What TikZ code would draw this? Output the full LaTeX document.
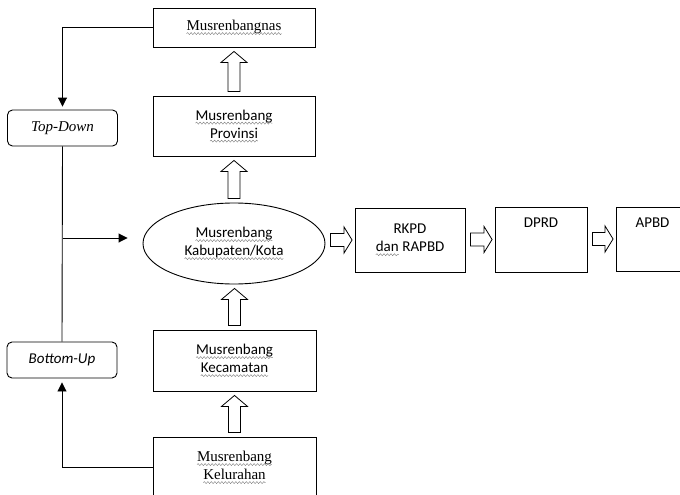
\documentclass[tikz,border=0pt]{standalone}
\usepackage{fontspec}
\setmainfont{Liberation Serif}
\setsansfont{Carlito}
\usetikzlibrary{shapes.geometric,calc,arrows.meta,decorations.pathmorphing}

% gekrinkelte Unterstreichung
\newcommand{\sq}[1]{\tikz[baseline=(w.base),x=1pt,y=1pt]{%
	\node[rectangle, inner sep=0pt, outer sep=0pt, minimum size=0pt, text depth=, text height=] (w) {#1};
	\draw[gray, line width=0.45pt, decorate, decoration={snake, amplitude=1pt, segment length=3.5pt}]
		([yshift=-3pt]w.base west) -- ([yshift=-3pt]w.base east);}}

% Blockpfeil nach oben (#1 unten, #2 oben)
\newcommand{\uparr}[2]{%
	\coordinate (L) at ($(#1.north)+(0,-4)$);
	\coordinate (U) at ($(#1.north |- #2.south)+(0,4)$);
	\draw[blk] ($(L)+(-6,0)$) -- ($(U)+(-6,11)$) -- ($(U)+(-13,11)$) -- (U)
		-- ($(U)+(13,11)$) -- ($(U)+(6,11)$) -- ($(L)+(6,0)$) -- cycle;}

% Blockpfeil nach rechts (#1 links, #2 rechts)
\newcommand{\rarr}[2]{%
	\coordinate (A) at ($(#2.west -| #1.east)+(5,0)$);
	\coordinate (B) at ($(#2.west)+(-2.5,0)$);
	\draw[blk] ($(A)+(0,-6.5)$) -- ($(B)+(-8,-6.5)$) -- ($(B)+(-8,-13)$) -- (B)
		-- ($(B)+(-8,13)$) -- ($(B)+(-8,6.5)$) -- ($(A)+(0,6.5)$) -- cycle;}

\begin{document}
\begin{tikzpicture}[x=1pt,y=-1pt,
	sans/.style={font=\sffamily\fontsize{15}{18}\selectfont},
	serif/.style={font=\rmfamily\fontsize{15}{18}\selectfont},
	box/.style={draw, line width=0.9pt, align=center, inner sep=2pt, sans},
	updown/.style={draw, rounded corners=5pt, line width=0.9pt, minimum width=110, minimum height=36},
	toptext/.style={text depth=33pt},
	tip/.style={-{Triangle[length=9pt,width=9pt]}, line width=0.9pt},
	blk/.style={draw, line width=0.8pt, fill=white}]

	% Rahmen
	\clip (0,0) rectangle (680,495);

	% Musrenbang-Stufen
	\node[box, serif, minimum width=162, minimum height=39] (nas) at (234,27.5) {\sq{Musrenbangnas}};
	\node[box, minimum width=162, minimum height=60] (prov) at (234,126) {\sq{Musrenbang}\\\sq{Provinsi}};
	\node[box, ellipse, inner sep=0pt, minimum width=182, minimum height=81] (kab) at (234,243.5) {\sq{Musrenbang}\\\sq{Kabupaten/Kota}};
	\node[box, minimum width=163, minimum height=61] (kec) at (234.5,360.5) {\sq{Musrenbang}\\\sq{Kecamatan}};
	\node[box, serif, minimum width=163, minimum height=61] (kel) at (234.5,467.5) {\sq{Musrenbang}\\\sq{Kelurahan}};

	% Anggaran
	\node[box, minimum width=110, minimum height=64] (rkpd) at (410,240) {RKPD\\\sq{dan} RAPBD};
	\node[box, toptext, minimum width=92, minimum height=65] (dprd) at (541,239.5) {DPRD};
	\node[box, toptext, minimum width=73, minimum height=64] (apbd) at (652.5,239) {APBD};

	% Richtung
	\node[updown, font=\rmfamily\itshape\fontsize{15}{18}\selectfont] (td) at (62.5,128) {Top-Down};
	\node[updown, font=\sffamily\itshape\fontsize{15}{18}\selectfont] (bu) at (62,360) {Bottom-Up};

	% Blockpfeile
	\uparr{prov}{nas}
	\uparr{kab}{prov}
	\uparr{kec}{kab}
	\uparr{kel}{kec}
	\rarr{kab}{rkpd}
	\rarr{rkpd}{dprd}
	\rarr{dprd}{apbd}

	% Linien links
	\coordinate (br) at (62.5,238);
	\draw[tip, shorten >=3pt] (nas.west) -| (td.north);
	\draw[line width=0.9pt] (td.south) -- (bu.north);
	\draw[tip, shorten >=15pt] (br) -- (br -| kab.west);
	\draw[tip, shorten >=4pt] (kel.west) -| (bu.south);

\end{tikzpicture}
\end{document}
